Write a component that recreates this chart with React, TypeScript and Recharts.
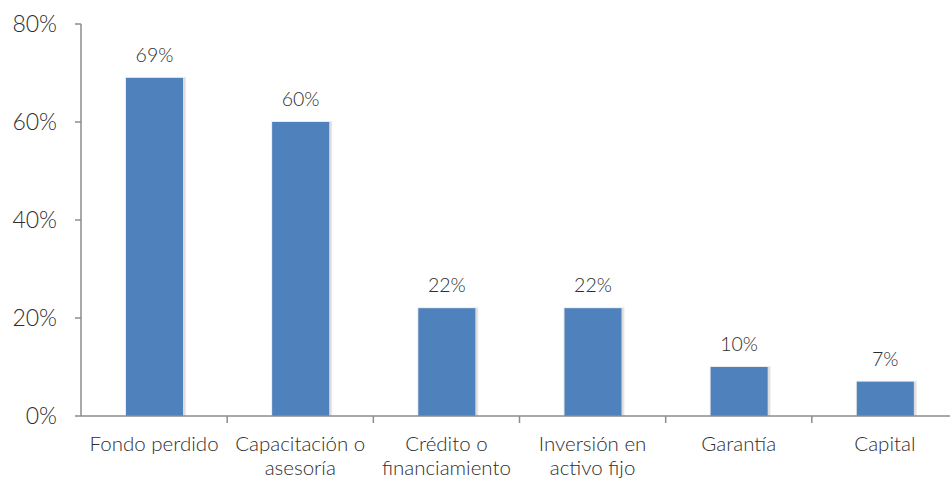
import React from "react";
import { BarChart, Bar, XAxis, YAxis, LabelList } from "recharts";

const categories = ["Fondo perdido", "Capacitación o asesoría", "Crédito o financiamiento", "Inversión en activo fijo", "Garantía", "Capital"];
const tickLines: string[][] = [
  ["Fondo perdido"],
  ["Capacitación o", "asesoría"],
  ["Crédito o", "financiamiento"],
  ["Inversión en", "activo fijo"],
  ["Garantía"],
  ["Capital"],
];
const values = [69, 60, 22, 22, 10, 7];
const yTicks = [0, 20, 40, 60, 80];

const data = categories.map((c, i) => ({ name: c, value: values[i] }));

const CHART_W = 958;
const CHART_H = 479;
const LEFT = 81;
const RIGHT_M = 0;
const BAND = (CHART_W - LEFT - RIGHT_M) / categories.length;
const FONT = "Lato, 'DejaVu Sans', sans-serif";
const TEXT = "#2e2e2e";
const AXIS = "#8c8c8c";

const XTick = (props: any) => {
  const { x, y, payload, index } = props;
  const lines = tickLines[index] || [payload.value];
  return (
    <g>
      <line x1={x + BAND / 2} x2={x + BAND / 2} y1={y} y2={y + 7} stroke={AXIS} strokeWidth={1.5} />
      <text x={x} y={y} textAnchor="middle" fill={TEXT} fontFamily={FONT} fontWeight={300} fontSize={20.5}>
        {lines.map((l, i) => (
          <tspan key={i} x={x} dy={i === 0 ? 35 : 24}>{l}</tspan>
        ))}
      </text>
    </g>
  );
};

const BarShape = (props: any) => {
  const { x, y, width, height, fill } = props;
  return (
    <g>
      <rect x={x - 1} y={y - 1} width={width + 4} height={height + 1} fill="#000" opacity={0.08} />
      <rect x={x} y={y} width={width + 2} height={height} fill="#000" opacity={0.06} />
      <rect x={x} y={y} width={width} height={height} fill={fill} />
    </g>
  );
};

export default function App() {
  return (
    <div style={{ position: "absolute", left: 0, top: 0, width: 950, height: 479, overflow: "hidden", background: "#fff" }}>
      <BarChart width={CHART_W} height={CHART_H} data={data} margin={{ top: 24, right: RIGHT_M, bottom: 0, left: 0 }}>
        <XAxis
          dataKey="name"
          height={63}
          tickLine={false}
          tickSize={0}
          tickMargin={0}
          interval={0}
          axisLine={{ stroke: AXIS, strokeWidth: 1.5 }}
          tick={<XTick />}
        />
        <YAxis
          width={LEFT}
          domain={[0, 80]}
          ticks={yTicks}
          interval={0}
          tickFormatter={(v: number) => `${v}%`}
          tickSize={6}
          tickMargin={18}
          tickLine={{ stroke: AXIS, strokeWidth: 1.5 }}
          axisLine={{ stroke: AXIS, strokeWidth: 1.5 }}
          tick={{ fill: TEXT, fontFamily: FONT, fontWeight: 300, fontSize: 23 }}
        />
        <Bar dataKey="value" fill="#4f81bd" barSize={57} isAnimationActive={false} shape={<BarShape />}>
          <LabelList
            dataKey="value"
            position="top"
            offset={16}
            formatter={(v: number) => `${v}%`}
            fill={TEXT}
            fontFamily={FONT}
            fontWeight={300}
            fontSize={19.5}
          />
        </Bar>
      </BarChart>
    </div>
  );
}
